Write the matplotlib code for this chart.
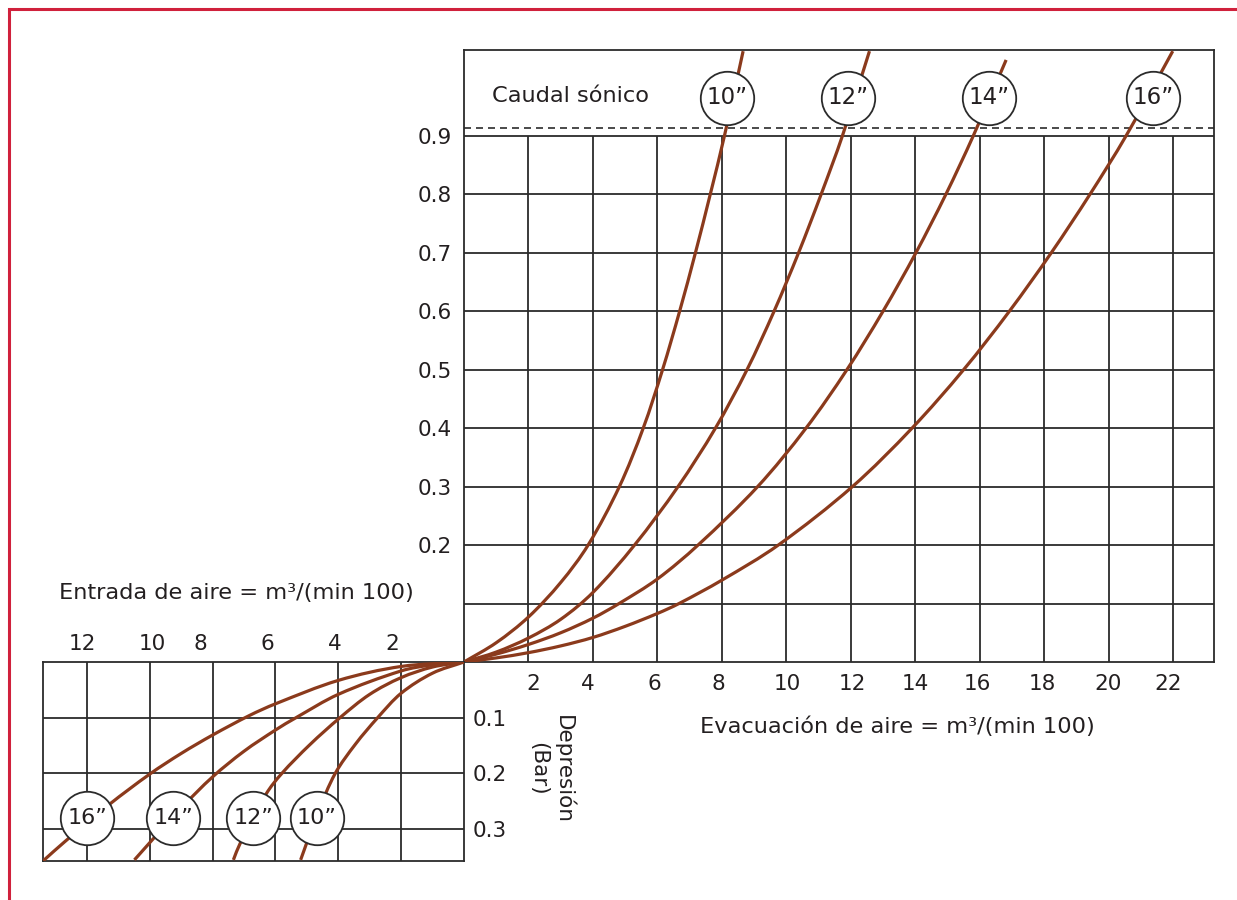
import matplotlib
matplotlib.use('Agg')
import numpy as np
import matplotlib.pyplot as plt
from matplotlib.patches import Rectangle, PathPatch
from matplotlib.path import Path
from matplotlib.transforms import ScaledTranslation

plt.rcParams['font.family'] = ['DejaVu Sans']

# ---------------- data ----------------
pipe_sizes = ['10”', '12”', '14”', '16”']

# upper panel: Evacuación de aire (x, m3/(min 100)) vs presión (y, bar)
evac_10_x = [0, 1, 2, 3, 3.85, 4.82, 5.56, 6.16, 6.69, 7.18, 7.64, 8.08, 8.66]
evac_10_y = [0, 0.033, 0.077, 0.136, 0.2, 0.3, 0.4, 0.5, 0.6, 0.7, 0.8, 0.9, 1.045]
evac_12_x = [0, 1, 2, 3, 4, 5.29, 6.64, 7.80, 8.78, 9.62, 10.38, 11.08, 11.74, 12.58]
evac_12_y = [0, 0.017, 0.041, 0.073, 0.119, 0.2, 0.3, 0.4, 0.5, 0.6, 0.7, 0.8, 0.9, 1.045]
evac_14_x = [0, 1, 2, 3, 4, 4.81, 6, 7.26, 9.11, 10.61, 11.88, 13.0, 14.02, 14.95, 15.80, 16.82]
evac_14_y = [0, 0.0135, 0.03, 0.05, 0.075, 0.1, 0.142, 0.2, 0.3, 0.4, 0.5, 0.6, 0.7, 0.8, 0.9, 1.03]
evac_16_x = [0, 1, 2, 3, 4, 5, 6, 6.67, 8, 9.75, 12.05, 13.9, 15.5, 16.92, 18.22, 19.42, 20.54, 21.99]
evac_16_y = [0, 0.007, 0.016, 0.0275, 0.042, 0.061, 0.083, 0.1, 0.14, 0.2, 0.3, 0.4, 0.5, 0.6, 0.7, 0.8, 0.9, 1.045]

# lower panel: Entrada de aire (x) vs depresión (y, bar)
entr_10_x = [0, 1, 2, 2.75, 3.45, 4.1, 4.65, 5.2]
entr_10_y = [0, 0.02, 0.056, 0.1, 0.147, 0.2, 0.27, 0.355]
entr_12_x = [0, 1, 2, 3, 3.95, 4.9, 5.8, 6.3, 7.13, 7.34]
entr_12_y = [0, 0.009, 0.028, 0.058, 0.1, 0.148, 0.2, 0.237, 0.326, 0.355]
entr_14_x = [0, 1, 2, 4, 5.35, 6, 7, 8, 9, 10.49]
entr_14_y = [0, 0.005, 0.016, 0.058, 0.1, 0.122, 0.16, 0.206, 0.262, 0.355]
entr_16_x = [0, 2, 4, 6, 6.83, 8, 9, 10, 11.3, 12.7, 13.4]
entr_16_y = [0, 0.008, 0.033, 0.075, 0.096, 0.131, 0.164, 0.201, 0.256, 0.322, 0.357]

evac_ticks = [2, 4, 6, 8, 10, 12, 14, 16, 18, 20, 22]
pres_grid = [0.1, 0.2, 0.3, 0.4, 0.5, 0.6, 0.7, 0.8, 0.9]
pres_ticks = [0.2, 0.3, 0.4, 0.5, 0.6, 0.7, 0.8, 0.9]
sonic_level = 0.914
entr_ticks = [2, 4, 6, 8, 10, 12]
dep_ticks = [0.1, 0.2, 0.3]

# label positions for the pipe-size circles
up_label_x = [8.15, 11.92, 16.29, 21.37]
up_label_y = 0.965
lo_label_x = [4.69, 6.71, 9.25, 11.99]
lo_label_y = 0.28

# ---------------- style ----------------
W, H = 1237, 900
GRID = '#2b2b2b'
TXT = '#231f20'
CURVE = '#8b3a1c'
FS = 15.5
FS_TITLE = 16.2

fig = plt.figure(figsize=(W / 100, H / 100), dpi=100)
fig.patch.set_facecolor('white')


def rect(x0, y0, x1, y1):
    return [x0 / W, 1 - y1 / H, (x1 - x0) / W, (y1 - y0) / H]


def smooth_curve(ax, xs, ys, **kw):
    """Draw a smooth curve through the read points (cubic Bezier pieces)."""
    P = ax.transData.transform(np.column_stack([xs, ys]))
    n = len(P)
    d = np.hypot(*np.diff(P, axis=0).T)
    T = np.zeros_like(P)
    T[0] = (P[1] - P[0]) / d[0]
    T[-1] = (P[-1] - P[-2]) / d[-1]
    for i in range(1, n - 1):
        T[i] = (P[i + 1] - P[i - 1]) / (d[i - 1] + d[i])
    verts = [P[0]]
    codes = [Path.MOVETO]
    for i in range(n - 1):
        verts += [P[i] + T[i] * d[i] / 3, P[i + 1] - T[i + 1] * d[i] / 3, P[i + 1]]
        codes += [Path.CURVE4] * 3
    verts = ax.transData.inverted().transform(np.array(verts))
    patch = PathPatch(Path(verts, codes), fill=False, transform=ax.transData, **kw)
    ax.add_patch(patch)


def shift_labels(labels, offsets):
    for lab, dx in zip(labels, offsets):
        lab.set_transform(lab.get_transform() + ScaledTranslation(dx / 100, 0, fig.dpi_scale_trans))


# red frame
fig.add_artist(Rectangle((9 / W, -0.2), 1.2, 1.2 - 9 / H, transform=fig.transFigure,
                         fill=False, edgecolor='#d0213c', lw=2.2, clip_on=False))

ax_up = fig.add_axes(rect(464, 50, 1214, 662))
ax_lo = fig.add_axes(rect(43, 662, 464, 861))

# ---------- upper panel ----------
XMAX, YMAX = 23.27, 1.047
ax_up.set_xlim(0, XMAX)
ax_up.set_ylim(0, YMAX)
ax_up.vlines(evac_ticks, 0, 0.9, color=GRID, lw=1.3, zorder=1)
ax_up.hlines(pres_grid, 0, XMAX, color=GRID, lw=1.3, zorder=1)
ax_up.axhline(sonic_level, color=GRID, lw=1.2, dashes=(4.2, 3.0), zorder=1)

for xs, ys in [(evac_10_x, evac_10_y), (evac_12_x, evac_12_y),
               (evac_14_x, evac_14_y), (evac_16_x, evac_16_y)]:
    smooth_curve(ax_up, xs, ys, edgecolor=CURVE, lw=2.3, zorder=3, capstyle='butt')

ax_up.scatter(up_label_x, [up_label_y] * 4, s=1480, facecolor='white',
              edgecolor=GRID, lw=1.3, zorder=5, clip_on=False)
for x, lab in zip(up_label_x, pipe_sizes):
    ax_up.text(x, up_label_y, lab, ha='center', va='center', fontsize=16.5,
               color=TXT, zorder=6)

ax_up.text(0.87, 0.968, 'Caudal sónico', ha='left', va='center', fontsize=FS_TITLE, color=TXT)
ax_up.text(7.32, -0.111, 'Evacuación de aire = m³/(min 100)', ha='left', va='center',
           fontsize=FS_TITLE, color=TXT, clip_on=False)

ax_up.set_xticks(evac_ticks)
ax_up.set_xticklabels([str(t) for t in evac_ticks])
ax_up.set_yticks(pres_ticks)
ax_up.set_yticklabels([f'{t:.1f}' for t in pres_ticks])
ax_up.tick_params(axis='both', length=0, labelsize=FS, labelcolor=TXT)
ax_up.tick_params(axis='x', pad=8.5)
ax_up.tick_params(axis='y', pad=8.5)
shift_labels(ax_up.get_xticklabels(), [4.5, -5, -3, -3, 1, 2, 0, -2, -2, -1, -5])
for sp in ax_up.spines.values():
    sp.set_color(GRID)
    sp.set_linewidth(1.3)
ax_up.set_facecolor('none')

# ---------- lower panel ----------
LXMAX, LYMAX = 13.4, 0.357
ax_lo.set_xlim(LXMAX, 0)
ax_lo.set_ylim(LYMAX, 0)
ax_lo.vlines(entr_ticks, 0, LYMAX, color=GRID, lw=1.3, zorder=1)
ax_lo.hlines(dep_ticks, 0, LXMAX, color=GRID, lw=1.3, zorder=1)

for xs, ys in [(entr_10_x, entr_10_y), (entr_12_x, entr_12_y),
               (entr_14_x, entr_14_y), (entr_16_x, entr_16_y)]:
    smooth_curve(ax_lo, xs, ys, edgecolor=CURVE, lw=2.3, zorder=3, capstyle='butt')

ax_lo.scatter(lo_label_x, [lo_label_y] * 4, s=1480, facecolor='white',
              edgecolor=GRID, lw=1.3, zorder=5, clip_on=False)
for x, lab in zip(lo_label_x, pipe_sizes):
    ax_lo.text(x, lo_label_y, lab, ha='center', va='center', fontsize=16,
               color=TXT, zorder=6)

ax_lo.xaxis.tick_top()
ax_lo.yaxis.tick_right()
ax_lo.set_xticks(entr_ticks)
ax_lo.set_xticklabels([str(t) for t in entr_ticks])
ax_lo.set_yticks(dep_ticks)
ax_lo.set_yticklabels([f'{t:.1f}' for t in dep_ticks])
ax_lo.tick_params(axis='both', length=0, labelsize=FS, labelcolor=TXT)
ax_lo.tick_params(axis='x', pad=6)
ax_lo.tick_params(axis='y', pad=6)
shift_labels(ax_lo.get_xticklabels(), [-9, -4, -8.5, -12, 2, -5])
for sp in ax_lo.spines.values():
    sp.set_color(GRID)
    sp.set_linewidth(1.3)
ax_lo.set_facecolor('none')

ax_lo.text(12.89, -0.124, 'Entrada de aire = m³/(min 100)', ha='left', va='center',
           fontsize=FS_TITLE, color=TXT, clip_on=False)
ax_lo.text(-2.77, 0.192, 'Depresión\n(Bar)', ha='center', va='center', rotation=-90,
           multialignment='center', fontsize=FS, color=TXT, clip_on=False,
           linespacing=1.28)

fig.savefig('out.png', dpi=100)
